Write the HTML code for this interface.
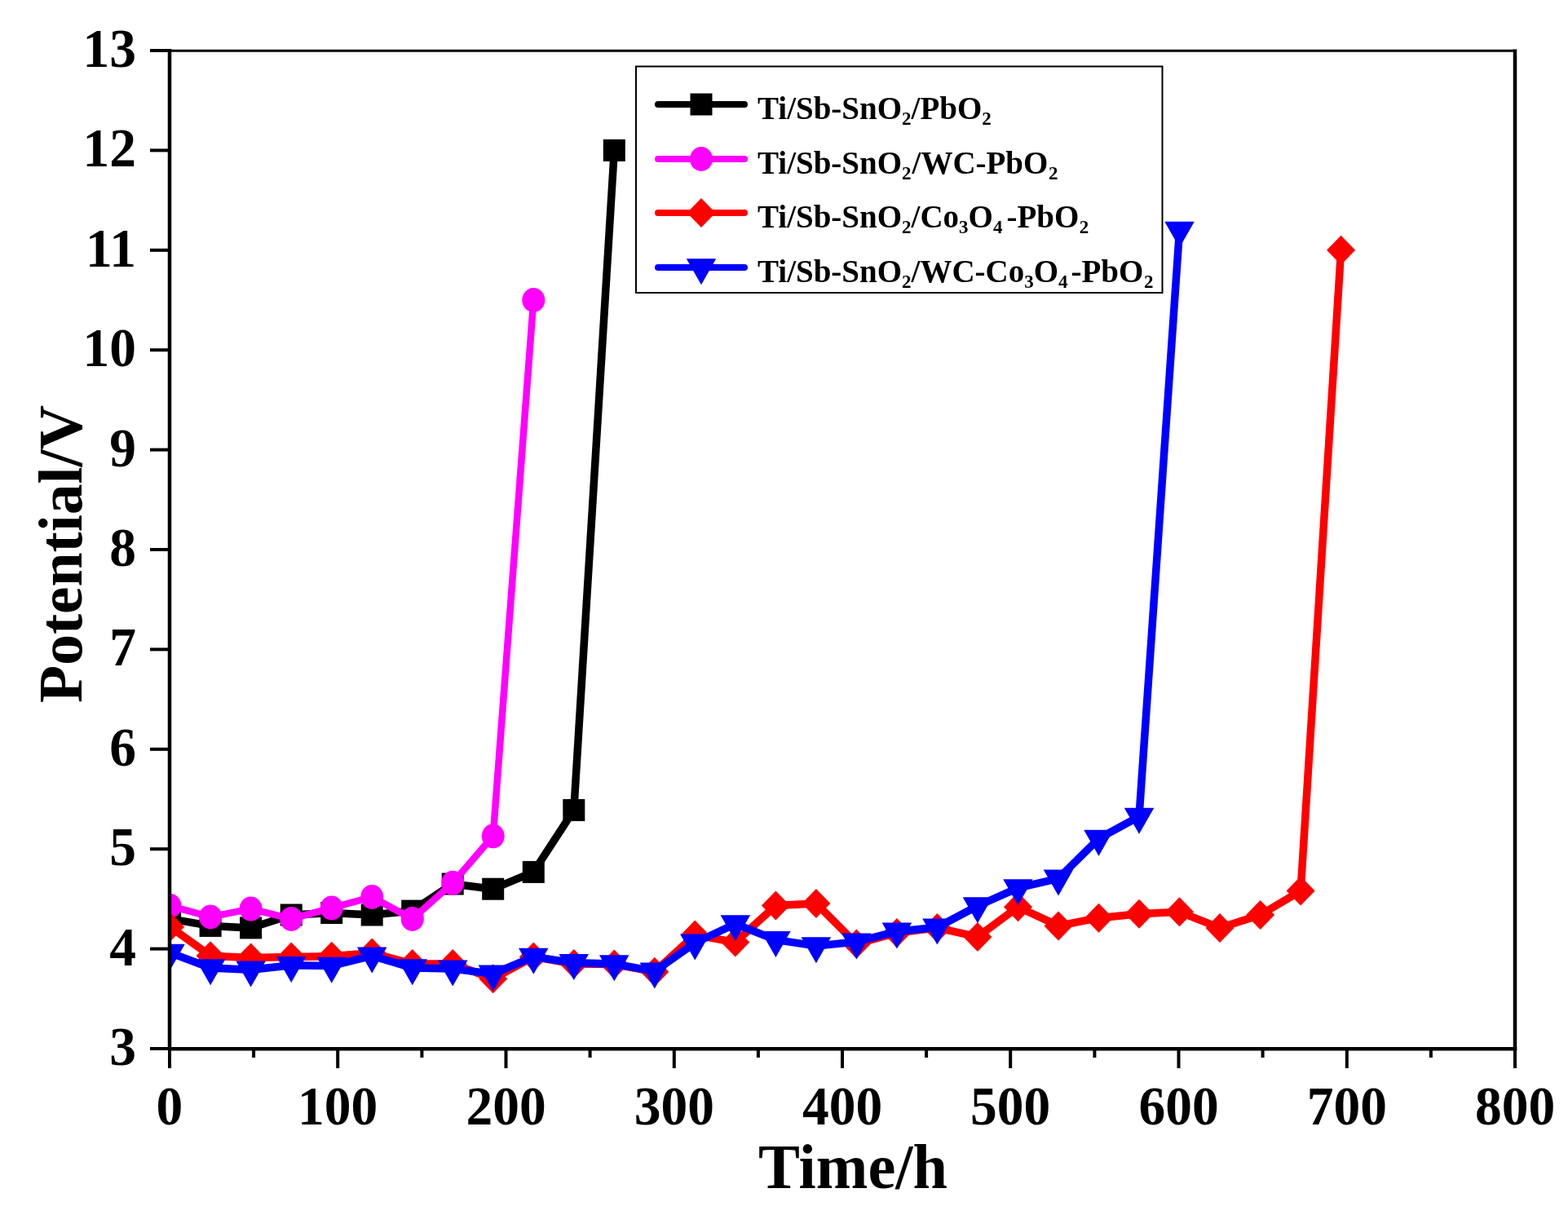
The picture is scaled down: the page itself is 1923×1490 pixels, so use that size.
<!DOCTYPE html>
<html><head><meta charset="utf-8"><style>
html,body{margin:0;padding:0;background:#fff;width:1923px;height:1490px;overflow:hidden}
svg{display:block}
</style></head><body>
<svg width="1923" height="1490" viewBox="0 0 1923 1490">
<rect width="1923" height="1490" fill="#fff"/>
<g font-family="Liberation Serif, serif" font-weight="bold" font-size="65.5" fill="#000">
<text transform="translate(167,1306.0) scale(1,1.047)" text-anchor="end">3</text>
<text transform="translate(167,1183.6) scale(1,1.047)" text-anchor="end">4</text>
<text transform="translate(167,1061.2) scale(1,1.047)" text-anchor="end">5</text>
<text transform="translate(167,938.8) scale(1,1.047)" text-anchor="end">6</text>
<text transform="translate(167,816.4) scale(1,1.047)" text-anchor="end">7</text>
<text transform="translate(167,694.0) scale(1,1.047)" text-anchor="end">8</text>
<text transform="translate(167,571.6) scale(1,1.047)" text-anchor="end">9</text>
<text transform="translate(167,449.2) scale(1,1.047)" text-anchor="end">10</text>
<text transform="translate(167,326.8) scale(1,1.047)" text-anchor="end">11</text>
<text transform="translate(167,204.4) scale(1,1.047)" text-anchor="end">12</text>
<text transform="translate(167,82.0) scale(1,1.047)" text-anchor="end">13</text>
<text transform="translate(208.0,1378.5) scale(1,1.047)" text-anchor="middle">0</text>
<text transform="translate(414.2,1378.5) scale(1,1.047)" text-anchor="middle">100</text>
<text transform="translate(620.5,1378.5) scale(1,1.047)" text-anchor="middle">200</text>
<text transform="translate(826.8,1378.5) scale(1,1.047)" text-anchor="middle">300</text>
<text transform="translate(1033.0,1378.5) scale(1,1.047)" text-anchor="middle">400</text>
<text transform="translate(1239.2,1378.5) scale(1,1.047)" text-anchor="middle">500</text>
<text transform="translate(1445.5,1378.5) scale(1,1.047)" text-anchor="middle">600</text>
<text transform="translate(1651.8,1378.5) scale(1,1.047)" text-anchor="middle">700</text>
<text transform="translate(1858.0,1378.5) scale(1,1.047)" text-anchor="middle">800</text>
</g>
<text x="930" y="1457" font-family="Liberation Serif, serif" font-weight="bold" font-size="77.5" textLength="232" lengthAdjust="spacingAndGlyphs">Time/h</text>
<text transform="translate(99.5,862) rotate(-90)" x="0" y="0" font-family="Liberation Serif, serif" font-weight="bold" font-size="76" textLength="365" lengthAdjust="spacingAndGlyphs">Potential/V</text>
<defs><clipPath id="pc"><rect x="208" y="62" width="1650" height="1224"/></clipPath></defs>
<g clip-path="url(#pc)">
<polyline points="208.6,1126.9 258.1,1135.4 307.6,1137.9 357.2,1122.0 406.7,1119.5 456.2,1122.0 505.7,1117.1 555.2,1084.0 604.7,1090.2 654.3,1069.4 703.8,993.5 753.3,184.4" fill="none" stroke="#000000" stroke-width="9.5" stroke-linejoin="round" stroke-linecap="round"/>
<rect x="195.1" y="1113.4" width="27" height="27" fill="#000000"/><rect x="244.6" y="1121.9" width="27" height="27" fill="#000000"/><rect x="294.1" y="1124.4" width="27" height="27" fill="#000000"/><rect x="343.7" y="1108.5" width="27" height="27" fill="#000000"/><rect x="393.2" y="1106.0" width="27" height="27" fill="#000000"/><rect x="442.7" y="1108.5" width="27" height="27" fill="#000000"/><rect x="492.2" y="1103.6" width="27" height="27" fill="#000000"/><rect x="541.7" y="1070.5" width="27" height="27" fill="#000000"/><rect x="591.2" y="1076.7" width="27" height="27" fill="#000000"/><rect x="640.8" y="1055.9" width="27" height="27" fill="#000000"/><rect x="690.3" y="980.0" width="27" height="27" fill="#000000"/><rect x="739.8" y="170.9" width="27" height="27" fill="#000000"/>
<polyline points="208.6,1111.0 258.1,1124.4 307.6,1114.6 357.2,1126.9 406.7,1113.4 456.2,1100.0 505.7,1126.9 555.2,1082.8 604.7,1025.3 654.3,368.0" fill="none" stroke="#ff00ff" stroke-width="8.5" stroke-linejoin="round" stroke-linecap="round"/>
<ellipse cx="208.6" cy="1111.0" rx="14" ry="15" fill="#ff00ff"/><ellipse cx="258.1" cy="1124.4" rx="14" ry="15" fill="#ff00ff"/><ellipse cx="307.6" cy="1114.6" rx="14" ry="15" fill="#ff00ff"/><ellipse cx="357.2" cy="1126.9" rx="14" ry="15" fill="#ff00ff"/><ellipse cx="406.7" cy="1113.4" rx="14" ry="15" fill="#ff00ff"/><ellipse cx="456.2" cy="1100.0" rx="14" ry="15" fill="#ff00ff"/><ellipse cx="505.7" cy="1126.9" rx="14" ry="15" fill="#ff00ff"/><ellipse cx="555.2" cy="1082.8" rx="14" ry="15" fill="#ff00ff"/><ellipse cx="604.7" cy="1025.3" rx="14" ry="15" fill="#ff00ff"/><ellipse cx="654.3" cy="368.0" rx="14" ry="15" fill="#ff00ff"/>
<polyline points="208.6,1136.7 258.1,1172.2 307.6,1174.6 357.2,1173.4 406.7,1172.8 456.2,1168.5 505.7,1182.0 555.2,1182.0 604.7,1200.3 654.3,1173.4 703.8,1182.0 753.3,1182.6 802.8,1191.8 852.3,1146.5 901.8,1155.6 951.4,1110.4 1000.9,1107.9 1050.4,1157.5 1099.9,1144.0 1149.4,1137.9 1198.9,1148.9 1248.5,1112.2 1298.0,1135.4 1347.5,1125.7 1397.0,1120.8 1446.5,1118.3 1496.0,1137.9 1545.6,1122.0 1595.1,1092.6 1644.6,306.8" fill="none" stroke="#ff0000" stroke-width="9.5" stroke-linejoin="round" stroke-linecap="round"/>
<polygon points="208.6,1118.7 226.1,1136.7 208.6,1154.7 191.1,1136.7" fill="#ff0000"/><polygon points="258.1,1154.2 275.6,1172.2 258.1,1190.2 240.6,1172.2" fill="#ff0000"/><polygon points="307.6,1156.6 325.1,1174.6 307.6,1192.6 290.1,1174.6" fill="#ff0000"/><polygon points="357.2,1155.4 374.7,1173.4 357.2,1191.4 339.7,1173.4" fill="#ff0000"/><polygon points="406.7,1154.8 424.2,1172.8 406.7,1190.8 389.2,1172.8" fill="#ff0000"/><polygon points="456.2,1150.5 473.7,1168.5 456.2,1186.5 438.7,1168.5" fill="#ff0000"/><polygon points="505.7,1164.0 523.2,1182.0 505.7,1200.0 488.2,1182.0" fill="#ff0000"/><polygon points="555.2,1164.0 572.7,1182.0 555.2,1200.0 537.7,1182.0" fill="#ff0000"/><polygon points="604.7,1182.3 622.2,1200.3 604.7,1218.3 587.2,1200.3" fill="#ff0000"/><polygon points="654.3,1155.4 671.8,1173.4 654.3,1191.4 636.8,1173.4" fill="#ff0000"/><polygon points="703.8,1164.0 721.3,1182.0 703.8,1200.0 686.3,1182.0" fill="#ff0000"/><polygon points="753.3,1164.6 770.8,1182.6 753.3,1200.6 735.8,1182.6" fill="#ff0000"/><polygon points="802.8,1173.8 820.3,1191.8 802.8,1209.8 785.3,1191.8" fill="#ff0000"/><polygon points="852.3,1128.5 869.8,1146.5 852.3,1164.5 834.8,1146.5" fill="#ff0000"/><polygon points="901.8,1137.6 919.3,1155.6 901.8,1173.6 884.3,1155.6" fill="#ff0000"/><polygon points="951.4,1092.4 968.9,1110.4 951.4,1128.4 933.9,1110.4" fill="#ff0000"/><polygon points="1000.9,1089.9 1018.4,1107.9 1000.9,1125.9 983.4,1107.9" fill="#ff0000"/><polygon points="1050.4,1139.5 1067.9,1157.5 1050.4,1175.5 1032.9,1157.5" fill="#ff0000"/><polygon points="1099.9,1126.0 1117.4,1144.0 1099.9,1162.0 1082.4,1144.0" fill="#ff0000"/><polygon points="1149.4,1119.9 1166.9,1137.9 1149.4,1155.9 1131.9,1137.9" fill="#ff0000"/><polygon points="1198.9,1130.9 1216.4,1148.9 1198.9,1166.9 1181.4,1148.9" fill="#ff0000"/><polygon points="1248.5,1094.2 1266.0,1112.2 1248.5,1130.2 1231.0,1112.2" fill="#ff0000"/><polygon points="1298.0,1117.4 1315.5,1135.4 1298.0,1153.4 1280.5,1135.4" fill="#ff0000"/><polygon points="1347.5,1107.7 1365.0,1125.7 1347.5,1143.7 1330.0,1125.7" fill="#ff0000"/><polygon points="1397.0,1102.8 1414.5,1120.8 1397.0,1138.8 1379.5,1120.8" fill="#ff0000"/><polygon points="1446.5,1100.3 1464.0,1118.3 1446.5,1136.3 1429.0,1118.3" fill="#ff0000"/><polygon points="1496.0,1119.9 1513.5,1137.9 1496.0,1155.9 1478.5,1137.9" fill="#ff0000"/><polygon points="1545.6,1104.0 1563.1,1122.0 1545.6,1140.0 1528.1,1122.0" fill="#ff0000"/><polygon points="1595.1,1074.6 1612.6,1092.6 1595.1,1110.6 1577.6,1092.6" fill="#ff0000"/><polygon points="1644.6,288.8 1662.1,306.8 1644.6,324.8 1627.1,306.8" fill="#ff0000"/>
<polyline points="208.6,1168.5 258.1,1186.9 307.6,1189.3 357.2,1183.8 406.7,1184.4 456.2,1172.2 505.7,1186.9 555.2,1188.1 604.7,1194.2 654.3,1173.4 703.8,1180.7 753.3,1182.0 802.8,1191.1 852.3,1156.3 901.8,1133.0 951.4,1152.6 1000.9,1159.9 1050.4,1155.0 1099.9,1142.2 1149.4,1137.3 1198.9,1111.0 1248.5,1088.9 1298.0,1077.3 1347.5,1028.3 1397.0,1001.4 1446.5,282.3" fill="none" stroke="#0000ff" stroke-width="9.5" stroke-linejoin="round" stroke-linecap="round"/>
<polygon points="190.3,1157.8 226.8,1157.8 208.6,1189.8" fill="#0000ff"/><polygon points="239.9,1176.2 276.4,1176.2 258.1,1208.2" fill="#0000ff"/><polygon points="289.4,1178.6 325.9,1178.6 307.6,1210.6" fill="#0000ff"/><polygon points="338.9,1173.1 375.4,1173.1 357.2,1205.1" fill="#0000ff"/><polygon points="388.4,1173.7 424.9,1173.7 406.7,1205.7" fill="#0000ff"/><polygon points="437.9,1161.5 474.4,1161.5 456.2,1193.5" fill="#0000ff"/><polygon points="487.5,1176.2 524.0,1176.2 505.7,1208.2" fill="#0000ff"/><polygon points="537.0,1177.4 573.5,1177.4 555.2,1209.4" fill="#0000ff"/><polygon points="586.5,1183.5 623.0,1183.5 604.7,1215.5" fill="#0000ff"/><polygon points="636.0,1162.7 672.5,1162.7 654.3,1194.7" fill="#0000ff"/><polygon points="685.5,1170.1 722.0,1170.1 703.8,1202.1" fill="#0000ff"/><polygon points="735.0,1171.3 771.5,1171.3 753.3,1203.3" fill="#0000ff"/><polygon points="784.6,1180.5 821.1,1180.5 802.8,1212.5" fill="#0000ff"/><polygon points="834.1,1145.6 870.6,1145.6 852.3,1177.6" fill="#0000ff"/><polygon points="883.6,1122.3 920.1,1122.3 901.8,1154.3" fill="#0000ff"/><polygon points="933.1,1141.9 969.6,1141.9 951.4,1173.9" fill="#0000ff"/><polygon points="982.6,1149.3 1019.1,1149.3 1000.9,1181.3" fill="#0000ff"/><polygon points="1032.1,1144.4 1068.6,1144.4 1050.4,1176.4" fill="#0000ff"/><polygon points="1081.7,1131.5 1118.2,1131.5 1099.9,1163.5" fill="#0000ff"/><polygon points="1131.2,1126.6 1167.7,1126.6 1149.4,1158.6" fill="#0000ff"/><polygon points="1180.7,1100.3 1217.2,1100.3 1198.9,1132.3" fill="#0000ff"/><polygon points="1230.2,1078.3 1266.7,1078.3 1248.5,1110.3" fill="#0000ff"/><polygon points="1279.7,1066.6 1316.2,1066.6 1298.0,1098.6" fill="#0000ff"/><polygon points="1329.2,1017.7 1365.7,1017.7 1347.5,1049.7" fill="#0000ff"/><polygon points="1378.8,990.8 1415.3,990.8 1397.0,1022.8" fill="#0000ff"/><polygon points="1428.3,271.7 1464.8,271.7 1446.5,303.7" fill="#0000ff"/>
</g>
<g stroke="#000" fill="none">
<line x1="208.0" y1="60" x2="208.0" y2="1288.2" stroke-width="4.5"/>
<line x1="1858" y1="60.5" x2="1858" y2="1288.2" stroke-width="4.5"/>
<line x1="206" y1="62.3" x2="1860" y2="62.3" stroke-width="3"/>
<line x1="206" y1="1286.2" x2="1860.2" y2="1286.2" stroke-width="4.5"/>
<line x1="184" y1="1286.0" x2="208.0" y2="1286.0" stroke-width="4"/>
<line x1="184" y1="1163.6" x2="208.0" y2="1163.6" stroke-width="4"/>
<line x1="184" y1="1041.2" x2="208.0" y2="1041.2" stroke-width="4"/>
<line x1="184" y1="918.8" x2="208.0" y2="918.8" stroke-width="4"/>
<line x1="184" y1="796.4" x2="208.0" y2="796.4" stroke-width="4"/>
<line x1="184" y1="674.0" x2="208.0" y2="674.0" stroke-width="4"/>
<line x1="184" y1="551.6" x2="208.0" y2="551.6" stroke-width="4"/>
<line x1="184" y1="429.2" x2="208.0" y2="429.2" stroke-width="4"/>
<line x1="184" y1="306.8" x2="208.0" y2="306.8" stroke-width="4"/>
<line x1="184" y1="184.4" x2="208.0" y2="184.4" stroke-width="4"/>
<line x1="184" y1="62.0" x2="208.0" y2="62.0" stroke-width="4"/>
<line x1="208.0" y1="1286" x2="208.0" y2="1310" stroke-width="4"/>
<line x1="311.1" y1="1286" x2="311.1" y2="1297" stroke-width="4"/>
<line x1="414.2" y1="1286" x2="414.2" y2="1310" stroke-width="4"/>
<line x1="517.4" y1="1286" x2="517.4" y2="1297" stroke-width="4"/>
<line x1="620.5" y1="1286" x2="620.5" y2="1310" stroke-width="4"/>
<line x1="723.6" y1="1286" x2="723.6" y2="1297" stroke-width="4"/>
<line x1="826.8" y1="1286" x2="826.8" y2="1310" stroke-width="4"/>
<line x1="929.9" y1="1286" x2="929.9" y2="1297" stroke-width="4"/>
<line x1="1033.0" y1="1286" x2="1033.0" y2="1310" stroke-width="4"/>
<line x1="1136.1" y1="1286" x2="1136.1" y2="1297" stroke-width="4"/>
<line x1="1239.2" y1="1286" x2="1239.2" y2="1310" stroke-width="4"/>
<line x1="1342.4" y1="1286" x2="1342.4" y2="1297" stroke-width="4"/>
<line x1="1445.5" y1="1286" x2="1445.5" y2="1310" stroke-width="4"/>
<line x1="1548.6" y1="1286" x2="1548.6" y2="1297" stroke-width="4"/>
<line x1="1651.8" y1="1286" x2="1651.8" y2="1310" stroke-width="4"/>
<line x1="1754.9" y1="1286" x2="1754.9" y2="1297" stroke-width="4"/>
<line x1="1858.0" y1="1286" x2="1858.0" y2="1310" stroke-width="4"/>
</g>
<rect x="780" y="81.5" width="645.5" height="277.5" fill="none" stroke="#000" stroke-width="2"/>
<line x1="807" y1="128" x2="913" y2="128" stroke="#000000" stroke-width="8" stroke-linecap="round"/>
<rect x="846.5" y="114.5" width="27" height="27" fill="#000000"/>
<text x="929" y="145.5" font-family="Liberation Serif, serif" font-weight="bold"><tspan font-size="39" dx="0" dy="0">Ti/Sb-SnO</tspan><tspan font-size="23" dx="0" dy="7">2</tspan><tspan font-size="39" dx="0" dy="-7">/PbO</tspan><tspan font-size="23" dx="0" dy="7">2</tspan></text>
<line x1="807" y1="195" x2="913" y2="195" stroke="#ff00ff" stroke-width="8" stroke-linecap="round"/>
<ellipse cx="860.0" cy="195.0" rx="14" ry="15" fill="#ff00ff"/>
<text x="929" y="212.5" font-family="Liberation Serif, serif" font-weight="bold"><tspan font-size="39" dx="0" dy="0">Ti/Sb-SnO</tspan><tspan font-size="23" dx="0" dy="7">2</tspan><tspan font-size="39" dx="1" dy="-7">/WC-PbO</tspan><tspan font-size="23" dx="0.5" dy="7">2</tspan></text>
<line x1="807" y1="261" x2="913" y2="261" stroke="#ff0000" stroke-width="8" stroke-linecap="round"/>
<polygon points="860.0,243.0 877.5,261.0 860.0,279.0 842.5,261.0" fill="#ff0000"/>
<text x="929" y="278.5" font-family="Liberation Serif, serif" font-weight="bold"><tspan font-size="39" dx="0" dy="0">Ti/Sb-SnO</tspan><tspan font-size="23" dx="0" dy="7">2</tspan><tspan font-size="39" dx="0" dy="-7">/Co</tspan><tspan font-size="23" dx="0" dy="7">3</tspan><tspan font-size="39" dx="0" dy="-7">O</tspan><tspan font-size="23" dx="0" dy="7">4</tspan><tspan font-size="39" dx="5" dy="-7">-PbO</tspan><tspan font-size="23" dx="0.5" dy="7">2</tspan></text>
<line x1="807" y1="328" x2="913" y2="328" stroke="#0000ff" stroke-width="8" stroke-linecap="round"/>
<polygon points="841.8,317.3 878.2,317.3 860.0,349.3" fill="#0000ff"/>
<text x="929" y="345.5" font-family="Liberation Serif, serif" font-weight="bold"><tspan font-size="39" dx="0" dy="0">Ti/Sb-SnO</tspan><tspan font-size="23" dx="0" dy="7">2</tspan><tspan font-size="39" dx="0" dy="-7">/WC-Co</tspan><tspan font-size="23" dx="0" dy="7">3</tspan><tspan font-size="39" dx="0" dy="-7">O</tspan><tspan font-size="23" dx="0" dy="7">4</tspan><tspan font-size="39" dx="4" dy="-7">-PbO</tspan><tspan font-size="23" dx="0.5" dy="7">2</tspan></text>
</svg>
</body></html>
